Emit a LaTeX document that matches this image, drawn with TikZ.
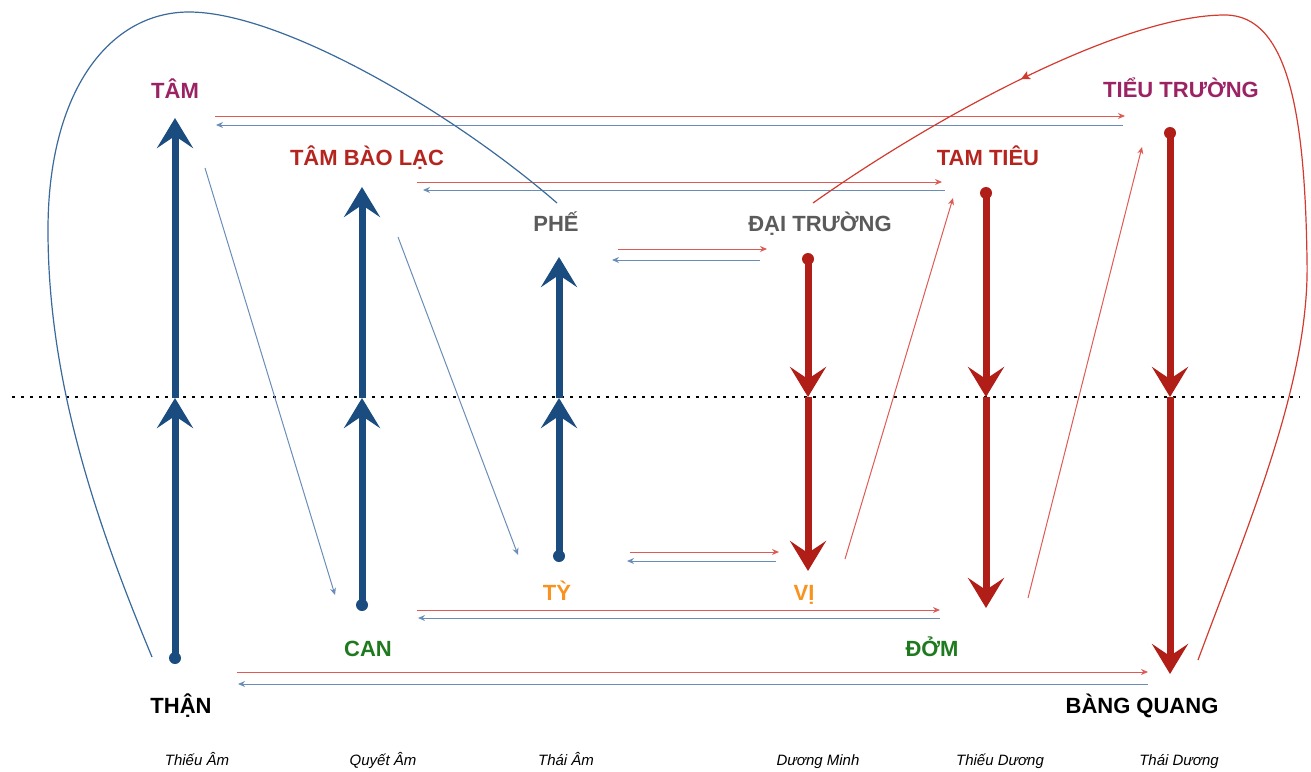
\documentclass[tikz,border=0pt]{standalone}
\usepackage{fontspec}
\setmainfont{Liberation Sans}
\usetikzlibrary{arrows.meta,decorations.markings}
\definecolor{yinblue}{HTML}{1A4C80}
\definecolor{yangred}{HTML}{B01E17}
\definecolor{linkblue}{HTML}{6A8DB8}
\definecolor{linkred}{HTML}{DE5A55}
\definecolor{loopblue}{HTML}{3A6A9C}
\definecolor{loopred}{HTML}{D23A30}
\definecolor{plum}{HTML}{9B2363}
\definecolor{brick}{HTML}{B5251F}
\definecolor{slate}{HTML}{5B5B5B}
\definecolor{amber}{HTML}{F7931E}
\definecolor{leaf}{HTML}{1F7A1F}
\tikzset{
    organ/.style={font=\fontsize{11}{13}\selectfont\bfseries, anchor=base, inner sep=0pt},
    meridian/.style={font=\fontsize{7.5}{9}\selectfont\itshape, anchor=base, inner sep=0pt},
    flow/.style={line width=3.5pt, -{Stealth[length=15pt,width=18pt,inset=6pt]}},
    yin/.style={flow, yinblue},
    yang/.style={flow, yangred},
    link/.style={line width=0.5pt, -{Stealth[length=3.5pt,width=3pt]}},
    mid arrow/.style={
        postaction={
            decorate,decoration={
                markings,mark=at position #1 with {\arrow{Stealth[length=4.5pt,width=4.5pt,inset=1pt]}}
            }
        }
    },
}
\begin{document}
\begin{tikzpicture}[x=0.5pt,y=-0.5pt]
    \useasboundingbox (0,0) rectangle (1311,771);
    % organs
    \node[organ, plum] (tam) at (175,98) {TÂM};
    \node[organ, brick] (tambaolac) at (367,165) {TÂM BÀO LẠC};
    \node[organ, slate] (phe) at (556,231) {PHẾ};
    \node[organ, slate] (daitruong) at (820,231) {ĐẠI TRƯỜNG};
    \node[organ, brick] (tamtieu) at (988,165) {TAM TIÊU};
    \node[organ, plum] (tieutruong) at (1181,97) {TIỂU TRƯỜNG};
    \node[organ, amber] (ty) at (557,600) {TỲ};
    \node[organ, amber] (vi) at (804,600) {VỊ};
    \node[organ, leaf] (can) at (368,656) {CAN};
    \node[organ, leaf] (dom) at (932,656) {ĐỞM};
    \node[organ] (than) at (181,713) {THẬN};
    \node[organ] (bangquang) at (1142,713) {BÀNG QUANG};
    % meridians
    \node[meridian] (thieuam) at (197,765) {Thiếu Âm};
    \node[meridian] (quyetam) at (383,765) {Quyết Âm};
    \node[meridian] (thaiam) at (566,765) {Thái Âm};
    \node[meridian] (duongminh) at (818,765) {Dương Minh};
    \node[meridian] (thieuduong) at (1000,765) {Thiếu Dương};
    \node[meridian] (thaiduong) at (1179,765) {Thái Dương};

    \draw[line width=1.4pt, dash pattern=on 1.4pt off 3.1pt] (12,397) -- (1300,397);

    % yin columns (upwards)
    \coordinate (thanB) at (175,658); \coordinate (thanM) at (175,398); \coordinate (thanT) at (175,118);
    \coordinate (canB) at (362,605); \coordinate (canM) at (362,398); \coordinate (canT) at (362,187);
    \coordinate (tyB) at (559,556); \coordinate (tyM) at (559,398); \coordinate (tyT) at (559,257);
    \fill[yinblue] (thanB) circle[radius=3pt] (canB) circle[radius=3pt] (tyB) circle[radius=3pt];
    \draw[yin] (thanB) -- (thanM);
    \draw[yin] (thanM) -- (thanT);
    \draw[yin] (canB) -- (canM);
    \draw[yin] (canM) -- (canT);
    \draw[yin] (tyB) -- (tyM);
    \draw[yin] (tyM) -- (tyT);

    % yang columns (downwards)
    \coordinate (viT) at (808,259); \coordinate (viM) at (808,397); \coordinate (viB) at (808,571);
    \coordinate (domT) at (986,193); \coordinate (domM) at (986,397); \coordinate (domB) at (986,608);
    \coordinate (bqT) at (1170,133); \coordinate (bqM) at (1170,397); \coordinate (bqB) at (1170,674);
    \fill[yangred] (viT) circle[radius=3pt] (domT) circle[radius=3pt] (bqT) circle[radius=3pt];
    \draw[yang] (viT) -- (viM);
    \draw[yang] (viM) -- (viB);
    \draw[yang] (domT) -- (domM);
    \draw[yang] (domM) -- (domB);
    \draw[yang] (bqT) -- (bqM);
    \draw[yang] (bqM) -- (bqB);

    % paired links
    \coordinate (tamOut) at (215,116); \coordinate (ttIn) at (1125,116);
    \coordinate (ttOut) at (1123,125); \coordinate (tamIn) at (216,125);
    \draw[link, linkred] (tamOut) -- (ttIn);
    \draw[link, linkblue] (ttOut) -- (tamIn);
    \coordinate (tblOut) at (417,182); \coordinate (ttuIn) at (942,182);
    \coordinate (ttuOut) at (945,190); \coordinate (tblIn) at (423,190);
    \draw[link, linkred] (tblOut) -- (ttuIn);
    \draw[link, linkblue] (ttuOut) -- (tblIn);
    \coordinate (pheOut) at (618,249); \coordinate (dtIn) at (767,249);
    \coordinate (dtOut) at (760,260); \coordinate (pheIn) at (612,260);
    \draw[link, linkred] (pheOut) -- (dtIn);
    \draw[link, linkblue] (dtOut) -- (pheIn);
    \coordinate (tyOut) at (630,552); \coordinate (viIn) at (779,552);
    \coordinate (viOut) at (776,561); \coordinate (tyIn) at (627,561);
    \draw[link, linkred] (tyOut) -- (viIn);
    \draw[link, linkblue] (viOut) -- (tyIn);
    \coordinate (canOut) at (417,610); \coordinate (domIn) at (940,610);
    \coordinate (domOut) at (940,618); \coordinate (canIn) at (418,618);
    \draw[link, linkred] (canOut) -- (domIn);
    \draw[link, linkblue] (domOut) -- (canIn);
    \coordinate (thanOut) at (237,672); \coordinate (bqIn) at (1148,672);
    \coordinate (bqOut) at (1148,684); \coordinate (thanIn) at (238,684);
    \draw[link, linkred] (thanOut) -- (bqIn);
    \draw[link, linkblue] (bqOut) -- (thanIn);

    % cross links
    \coordinate (tamDn) at (205,168); \coordinate (canUp) at (335,595);
    \draw[link, linkblue] (tamDn) -- (canUp);
    \coordinate (tblDn) at (398,237); \coordinate (tyUp) at (518,555);
    \draw[link, linkblue] (tblDn) -- (tyUp);
    \coordinate (viUp) at (845,559); \coordinate (ttuDn) at (953,198);
    \draw[link, linkred] (viUp) -- (ttuDn);
    \coordinate (domUp) at (1028,598); \coordinate (ttDn) at (1142,147);
    \draw[link, linkred] (domUp) -- (ttDn);

    % loops
    \coordinate (thanLoop) at (152,657); \coordinate (pheLoop) at (557,203);
    \draw[loopblue, line width=0.6pt] (thanLoop) .. controls (95,520) and (48,380) .. (48,230)
        .. controls (48,90) and (110,12) .. (189,12) .. controls (280,12) and (450,110) .. (pheLoop);
    \coordinate (bqLoop) at (1198,660); \coordinate (dtLoop) at (813,203);
    \draw[loopred, line width=0.6pt, mid arrow=0.79] (bqLoop) .. controls (1250,520) and (1310,380) .. (1307,260)
        .. controls (1305,120) and (1290,15) .. (1225,15) .. controls (1120,15) and (930,120) .. (dtLoop);
\end{tikzpicture}
\end{document}
